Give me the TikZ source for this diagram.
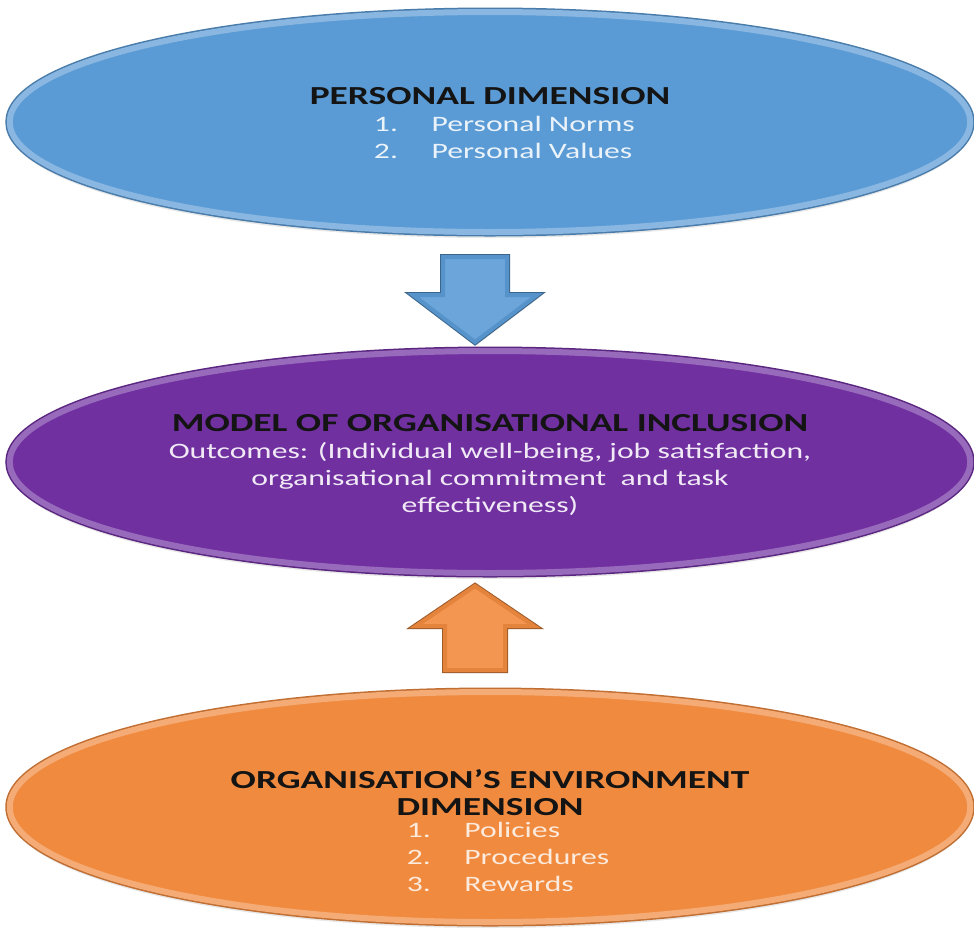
\documentclass[tikz,border=0pt]{standalone}
\usepackage{fontspec}
\setmainfont{Carlito}
\usepackage{xcolor}
\usetikzlibrary{shapes.geometric, shadows}

\definecolor{dimblue}{HTML}{5B9BD5}
\definecolor{dimpurple}{HTML}{7030A0}
\definecolor{dimorange}{HTML}{F08A3F}
\newcommand\dimtitle{\fontsize{26}{27}\selectfont\bfseries\color{black!92}}

\tikzset{
  dimension/.style={ellipse, minimum width=667pt, xscale=1.44, inner sep=0pt, align=center,
    font=\fontsize{22}{27}\selectfont, text depth=0pt,
    drop shadow={shadow xshift=0pt, shadow yshift=-6pt, opacity=0.18},
    preaction={draw=#1!80!black, line width=9pt},
    fill=#1, draw=#1!72!white, line width=6pt},
  blockarrow/.style={line join=miter,
    drop shadow={shadow xshift=2pt, shadow yshift=-3pt, opacity=0.15},
    preaction={draw=#1!65!black, line width=6pt},
    fill=#1!90!white, draw=#1!95!black, line width=4pt}
}

\begin{document}
\begin{tikzpicture}[x=1pt, y={(0,-1pt)}]
\useasboundingbox (0,0) rectangle (974,930);

\node[dimension=dimblue, minimum height=220pt, text height=18pt, text=dimblue!12!white] (personal) at (490,122)
  {{\dimtitle PERSONAL DIMENSION}\\
   \begin{tabular}[t]{@{\hspace{20pt}}p{40pt}@{}l@{}}1. & Personal Norms\\ 2. & Personal Values\end{tabular}};

\node[dimension=dimpurple, minimum height=222pt, text height=100pt, text=dimpurple!10!white] (model) at (490,462)
  {{\dimtitle MODEL OF ORGANISATIONAL INCLUSION}\\
   Outcomes: (Individual well-being, job satisfaction,\\
   organisational commitment\ \ and task\\
   effectiveness)};

\node[dimension=dimorange, minimum height=230pt, text height=60pt, text=dimorange!18!white] (environment) at (490,807)
  {{\dimtitle ORGANISATION'S ENVIRONMENT}\\
   {\dimtitle DIMENSION}\\[-5pt]
   \begin{tabular}[t]{@{\hspace{25pt}}p{40pt}@{}l@{}}1. & Policies\\ 2. & Procedures\\ 3. & Rewards\end{tabular}};

\coordinate (downtip) at (475,342);
\coordinate (uptip) at (475,586);
\filldraw[blockarrow=dimblue] (downtip) -- ++(62,-47) -- ++(-30,0) -- ++(0,-38) -- ++(-64,0) -- ++(0,38) -- ++(-30,0) -- cycle;
\filldraw[blockarrow=dimorange] (uptip) -- ++(59,40) -- ++(-29,0) -- ++(0,44) -- ++(-60,0) -- ++(0,-44) -- ++(-29,0) -- cycle;
\end{tikzpicture}
\end{document}
